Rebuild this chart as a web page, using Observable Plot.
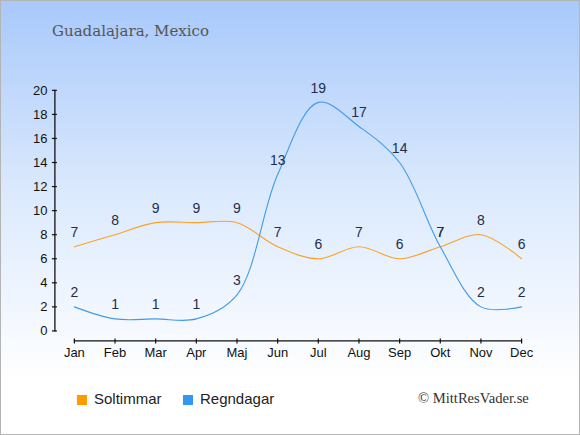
<!DOCTYPE html>
<html>
<head>
<meta charset="utf-8">
<script src="https://cdn.jsdelivr.net/npm/d3@7"></script>
<script src="https://cdn.jsdelivr.net/npm/@observablehq/plot@0.6"></script>
<style>
  html, body { margin: 0; padding: 0; }
  #wrap {
    position: relative; width: 580px; height: 435px; box-sizing: border-box;
    border: 1px solid #b4b4b4;
    background: linear-gradient(to bottom, #a8c9fb 0%, #dceafd 45%, #ffffff 88%, #ffffff 100%);
    overflow: hidden;
  }
  #chart { position: absolute; left: -1px; top: -1px; }
  .title { position: absolute; left: 51px; top: 21px; font-family: "DejaVu Serif", Georgia, serif; font-size: 15px; color: #555; }
  .leg { position: absolute; top: 389px; font-family: "Liberation Sans", Arial, sans-serif; font-size: 15px; color: #222; }
  .sw { display: inline-block; width: 10px; height: 10px; vertical-align: -1px; margin-right: 7px; }
  .foot { position: absolute; left: 417px; top: 389px; font-family: "Liberation Serif", "Times New Roman", serif; font-size: 14.6px; color: #333; }
</style>
</head>
<body>
<div id="wrap">
  <div class="title">Guadalajara, Mexico</div>
  <div id="chart"></div>
  <div class="leg" style="left:76px"><span class="sw" style="background:#ff9a00"></span>Soltimmar</div>
  <div class="leg" style="left:182px"><span class="sw" style="background:#3399ee"></span>Regndagar</div>
  <div class="foot">© MittResVader.se</div>
</div>
<script>
const months = ["Jan","Feb","Mar","Apr","Maj","Jun","Jul","Aug","Sep","Okt","Nov","Dec"];
const sunHours = [7,8,9,9,9,7,6,7,6,7,8,6];
const rainDays = [2,1,1,1,3,13,19,17,14,7,2,2];
const yTicks = [0,2,4,6,8,10,12,14,16,18,20];

const sun = months.map((m, i) => ({month: m, value: sunHours[i]}));
const rain = months.map((m, i) => ({month: m, value: rainDays[i]}));
const yLine = [{m: months[0], v: yTicks[0]}, {m: months[0], v: yTicks[yTicks.length - 1]}];
const xLine = [{m: months[0], v: 0}, {m: months[months.length - 1], v: 0}];

const W = 580, H = 435;
const plot = Plot.plot({
  width: W, height: H,
  marginLeft: 57, marginRight: 58, marginTop: 90, marginBottom: 96,
  style: {background: "transparent", fontFamily: "'Liberation Sans', Arial, sans-serif", fontSize: "13px", color: "#111", overflow: "visible"},
  x: {type: "point", domain: months, range: [74, 522], padding: 0, round: false},
  y: {domain: [0, 20], range: [331, 90]},
  marks: [
    Plot.axisY({ticks: yTicks, tickSize: 5, tickPadding: 5, label: null, fontSize: 13, fill: "#111", strokeWidth: 1.2}),
    Plot.axisX({tickSize: 5, tickPadding: 4, label: null, fontSize: 13, fill: "#111", strokeWidth: 1.2}),
    Plot.line(yLine, {x: "m", y: "v", dx: -19.5, stroke: "#111", strokeWidth: 1.3}),
    Plot.line(xLine, {x: "m", y: "v", dy: 10, stroke: "#111", strokeWidth: 1.3}),
    Plot.line(sun, {x: "month", y: "value", curve: "catmull-rom", stroke: "#f9a12a", strokeWidth: 1.1}),
    Plot.line(rain, {x: "month", y: "value", curve: "catmull-rom", stroke: "#3f9be8", strokeWidth: 1.1}),
    Plot.text(sun, {x: "month", y: "value", text: d => String(d.value), dy: -14, fill: "#1f2d4d", fontSize: 14}),
    Plot.text(rain, {x: "month", y: "value", text: d => String(d.value), dy: -14, fill: "#1f2d4d", fontSize: 14})
  ]
});
document.getElementById("chart").appendChild(plot);
</script>
</body>
</html>
